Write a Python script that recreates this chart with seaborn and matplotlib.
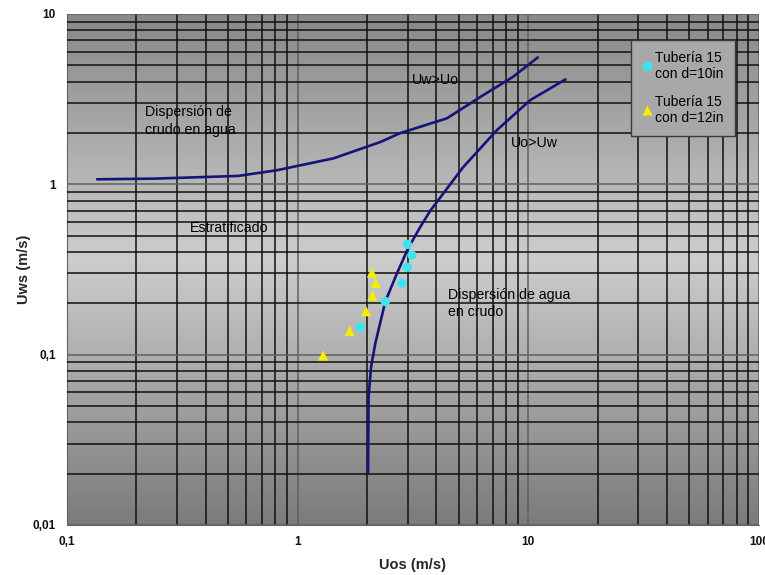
import numpy as np
import matplotlib.pyplot as plt
import seaborn as sns
from matplotlib.lines import Line2D
from matplotlib.colors import LinearSegmentedColormap

sns.set_style("white")
plt.rcParams['font.family'] = ['Liberation Sans', 'DejaVu Sans']
plt.rcParams['text.color'] = 'black'

# frontera Uw>Uo
curva1_x = [0.135, 0.241, 0.552, 0.815, 1.43, 2.28, 2.79, 4.44, 6.2, 8.6, 11.0]
curva1_y = [1.07, 1.08, 1.12, 1.21, 1.42, 1.77, 2.0, 2.44, 3.26, 4.28, 5.56]
# frontera Uo>Uw
curva2_x = [2.02, 2.03, 2.08, 2.17, 2.40, 2.69, 3.01, 3.40, 3.76, 5.22, 7.31, 10.2, 14.5]
curva2_y = [0.02, 0.056, 0.084, 0.116, 0.205, 0.298, 0.42, 0.561, 0.70, 1.26, 2.08, 3.12, 4.13]

# Tuberia 15, d=10in
t10_x = [2.99, 3.13, 2.99, 2.83, 2.40, 1.87]
t10_y = [0.444, 0.384, 0.326, 0.263, 0.205, 0.145]
# Tuberia 15, d=12in
t12_x = [2.10, 2.18, 2.11, 1.98, 1.68, 1.29]
t12_y = [0.303, 0.264, 0.222, 0.180, 0.138, 0.099]

xticks = [0.1, 1, 10, 100]
xlabels = ['0,1', '1', '10', '100']
yticks = [0.01, 0.1, 1, 10]
ylabels = ['0,01', '0,1', '1', '10']

fig = plt.figure(figsize=(7.65, 5.75), dpi=100)
ax = fig.add_axes([0.0876, 0.087, 0.9044, 0.8887])
ax.set_xscale('log')
ax.set_yscale('log')
ax.set_xlim(0.1, 100)
ax.set_ylim(0.01, 10)

# fondo degradado gris
cmap = LinearSegmentedColormap.from_list(
    'fondo', [(0, '#7b7b7b'), (0.52, '#cdcdcd'), (1, '#888888')])
grad = np.linspace(0, 1, 256).reshape(-1, 1)
ax.imshow(grad, cmap=cmap, origin='lower', extent=[0, 1, 0, 1],
          transform=ax.transAxes, aspect='auto', zorder=0)

minor = [m * 10.0 ** e for e in range(-2, 2) for m in range(2, 10)]
ax.set_xticks([v for v in minor if 0.1 < v < 100], minor=True)
ax.set_yticks([v for v in minor if 0.01 < v < 10], minor=True)
ax.set_xticks(xticks, labels=xlabels)
ax.set_yticks(yticks, labels=ylabels)
ax.grid(which='minor', color='#101010', linewidth=1.1, zorder=1)
ax.grid(which='major', color='#606060', linewidth=1.1, zorder=1)
ax.set_axisbelow(False)
ax.tick_params(which='minor', length=0)
ax.tick_params(which='major', length=4, width=1, color='#555555',
               labelsize=8.5, direction='out', pad=4, labelcolor='#111111')
for lab in ax.get_xticklabels() + ax.get_yticklabels():
    lab.set_fontweight('bold')
for s in ['top', 'right']:
    ax.spines[s].set_visible(False)
for s in ['left', 'bottom']:
    ax.spines[s].set_color('#666666')

sns.lineplot(x=curva1_x, y=curva1_y, sort=False, color='#14147a', linewidth=1.9, ax=ax, zorder=3)
sns.lineplot(x=curva2_x, y=curva2_y, sort=False, color='#14147a', linewidth=1.9, ax=ax, zorder=3)
sns.scatterplot(x=t10_x, y=t10_y, marker='o', s=45, color='#3ee3ef', edgecolor='none', ax=ax, zorder=4)
sns.scatterplot(x=t12_x, y=t12_y, marker='^', s=55, color='#f4ee00', edgecolor='none', ax=ax, zorder=4)

ax.text(0.218, 2.35, 'Dispersión de\ncrudo en agua', fontsize=10.2, va='center', ha='left',
        linespacing=1.3, zorder=5)
ax.text(0.342, 0.551, 'Estratificado', fontsize=10.2, va='center', ha='left', zorder=5)
ax.text(3.14, 4.1, 'Uw>Uo', fontsize=10.2, va='center', ha='left', zorder=5)
ax.text(8.4, 1.74, 'Uo>Uw', fontsize=10.2, va='center', ha='left', zorder=5)
ax.text(4.5, 0.2, 'Dispersión de agua\nen crudo', fontsize=10.2, va='center', ha='left',
        linespacing=1.3, zorder=5)

ax.set_xlabel('Uos (m/s)', fontsize=10.5, fontweight='bold', labelpad=7)
ax.set_ylabel('Uws (m/s)', fontsize=10.5, fontweight='bold', labelpad=1)

handles = [
    Line2D([], [], marker='o', linestyle='none', markersize=7, markerfacecolor='#3ee3ef',
           markeredgecolor='none'),
    Line2D([], [], marker='^', linestyle='none', markersize=7.5, markerfacecolor='#f4ee00',
           markeredgecolor='none'),
]
leg = ax.legend(handles, ['Tubería 15\ncon d=10in', 'Tubería 15\ncon d=12in'],
                loc='upper right', bbox_to_anchor=(0.965, 0.95), fontsize=10,
                frameon=True, fancybox=False, framealpha=1, handlelength=0.7,
                handletextpad=0.2, labelspacing=1.0, borderpad=0.8, borderaxespad=0)
leg.get_frame().set_facecolor('#a8a8a8')
leg.get_frame().set_edgecolor('#3a3a3a')
leg.get_frame().set_linewidth(1.0)
leg.set_zorder(6)

fig.savefig('out.png', dpi=100)
